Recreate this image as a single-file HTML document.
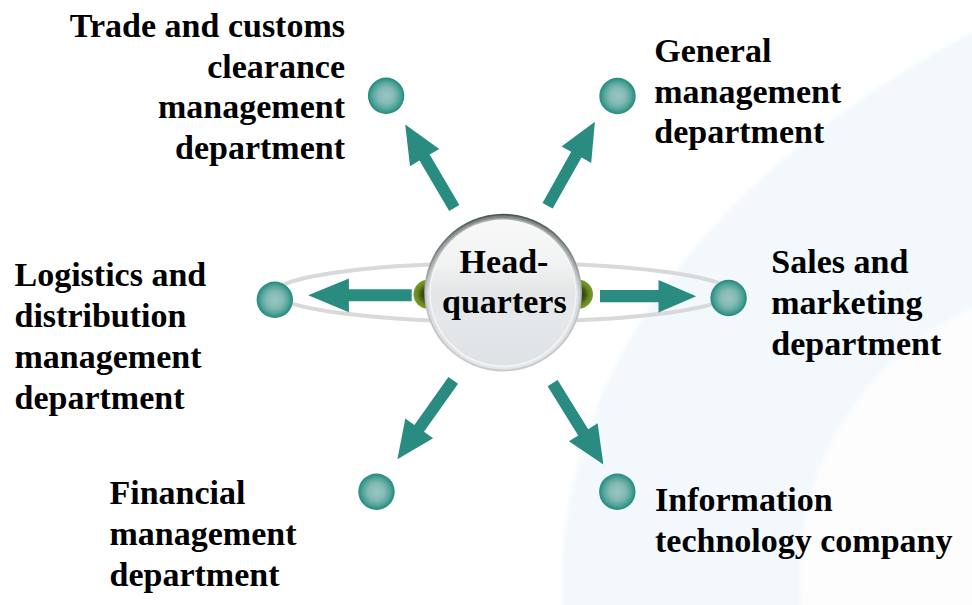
<!DOCTYPE html>
<html><head><meta charset="utf-8">
<style>
html,body{margin:0;padding:0;background:#fff;}
body{width:972px;height:605px;overflow:hidden;position:relative;}
svg{position:absolute;left:0;top:0;display:block;}
.t{font-family:"Liberation Serif",serif;font-weight:bold;font-size:34px;fill:#000;}
</style></head><body>
<svg width="972" height="605" viewBox="0 0 972 605">
<defs>
  <radialGradient id="ball" cx="50%" cy="50%" r="50%">
    <stop offset="0" stop-color="#98c6c2"/>
    <stop offset="0.45" stop-color="#84bab4"/>
    <stop offset="0.75" stop-color="#53a59b"/>
    <stop offset="0.92" stop-color="#319287"/>
    <stop offset="1" stop-color="#27897b"/>
  </radialGradient>
  <linearGradient id="rim1" x1="0" y1="0" x2="0" y2="1">
    <stop offset="0" stop-color="#4e5454"/>
    <stop offset="0.3" stop-color="#8a9090"/>
    <stop offset="0.5" stop-color="#bcc0c0"/>
    <stop offset="1" stop-color="#c8cccc"/>
  </linearGradient>
  <linearGradient id="rim2" x1="0" y1="0" x2="0" y2="1">
    <stop offset="0" stop-color="#7c8282"/>
    <stop offset="0.3" stop-color="#a8aeb0"/>
    <stop offset="0.5" stop-color="#d4d6de"/>
    <stop offset="1" stop-color="#e4e8e8"/>
  </linearGradient>
  <linearGradient id="rim3" x1="0" y1="0" x2="0" y2="1">
    <stop offset="0" stop-color="#a8acac"/>
    <stop offset="0.3" stop-color="#c8ccce"/>
    <stop offset="0.5" stop-color="#e4e6ee"/>
    <stop offset="1" stop-color="#eef0f0"/>
  </linearGradient>
  <linearGradient id="disc" x1="0" y1="0" x2="0" y2="1">
    <stop offset="0" stop-color="#f8f8f8"/>
    <stop offset="0.3" stop-color="#f1f2f2"/>
    <stop offset="0.5" stop-color="#e3e5e6"/>
    <stop offset="0.7" stop-color="#e5e8ea"/>
    <stop offset="1" stop-color="#dde2e5"/>
  </linearGradient>
  <radialGradient id="grn" cx="0.5" cy="0.5" r="0.5">
    <stop offset="0" stop-color="#1e2a0c"/>
    <stop offset="0.45" stop-color="#3e5214"/>
    <stop offset="0.75" stop-color="#6a8a20"/>
    <stop offset="1" stop-color="#7a9a2a"/>
  </radialGradient>
  <filter id="soft" x="-5%" y="-5%" width="110%" height="110%"><feGaussianBlur stdDeviation="2"/></filter>
  <g id="b"><circle r="18.2" fill="url(#ball)"/></g>
</defs>
<!-- background band -->
<clipPath id="outer"><ellipse cx="1714" cy="583" rx="1152" ry="719"/></clipPath>
<g filter="url(#soft)"><g clip-path="url(#outer)">
  <rect x="0" y="0" width="980" height="620" fill="#f2f8fc"/>
  <circle cx="1092.6" cy="575" r="293.4" fill="#fdfdfe"/>
</g></g>

<!-- ring -->
<ellipse cx="503" cy="292.5" rx="227.5" ry="29.4" fill="none" stroke="#d9d9d9" stroke-width="4"/>

<!-- balls -->
<use href="#b" x="386.1" y="95.8"/>
<use href="#b" x="617.5" y="96"/>
<use href="#b" x="274.8" y="299.8"/>
<use href="#b" x="728.6" y="298"/>
<use href="#b" x="376.5" y="491.7"/>
<use href="#b" x="617.3" y="491.7"/>

<!-- arrows -->
<g fill="#2a8c80">
<polygon points="600.0,302.3 658.5,302.3 658.5,312.5 696.2,296.2 658.5,279.9 658.5,290.1 600.0,290.1"/>
<polygon points="411.7,289.2 348.9,289.3 348.9,278.4 308.2,295.3 348.9,312.2 348.9,301.3 411.7,301.2"/>
<polygon points="459.4,205.0 429.7,154.6 439.3,149.0 405.2,124.6 410.0,166.2 419.5,160.6 449.2,211.0"/>
<polygon points="552.7,208.6 581.5,157.6 591.2,163.1 594.9,121.8 561.5,146.4 571.2,151.8 542.5,202.9"/>
<polygon points="448.4,376.9 414.4,425.0 405.3,418.6 397.4,459.3 433.1,438.2 424.0,431.8 458.1,383.7"/>
<polygon points="547.6,386.3 578.2,435.4 568.9,441.2 603.4,464.6 597.6,423.3 588.2,429.2 557.6,380.1"/>
</g>

<!-- green bits -->
<ellipse cx="428" cy="294.3" rx="14.5" ry="14.5" fill="url(#grn)"/>
<ellipse cx="578.5" cy="294.3" rx="14.5" ry="14.5" fill="url(#grn)"/>

<!-- sphere -->
<circle cx="503.1" cy="292.6" r="78.8" fill="url(#rim1)"/>
<circle cx="503.1" cy="292.6" r="77.0" fill="url(#rim2)"/>
<circle cx="503.1" cy="292.7" r="74.8" fill="url(#rim3)"/>
<circle cx="503.1" cy="292.9" r="73.4" fill="#fafafa"/>
<circle cx="503.1" cy="293.1" r="72.5" fill="url(#disc)"/>

<!-- text -->
<text class="t" x="504" y="272.9" text-anchor="middle">Head-</text>
<text class="t" x="504.3" y="313.4" text-anchor="middle">quarters</text>

<g class="t" text-anchor="end">
<text x="345" y="36.6">Trade and customs</text>
<text x="345" y="77.5">clearance</text>
<text x="345" y="118.4">management</text>
<text x="345" y="159.3">department</text>
</g>
<g class="t">
<text x="654.3" y="61.7">General</text>
<text x="654.3" y="102.5">management</text>
<text x="654.3" y="143.3">department</text>

<text x="14.5" y="286.1">Logistics and</text>
<text x="14.5" y="327.2">distribution</text>
<text x="14.5" y="368.3">management</text>
<text x="14.5" y="409.4">department</text>

<text x="771.3" y="273.1">Sales and</text>
<text x="771.3" y="314.2">marketing</text>
<text x="771.3" y="355.4">department</text>

<text x="109.5" y="503.8">Financial</text>
<text x="109.5" y="544.7">management</text>
<text x="109.5" y="585.5">department</text>

<text x="655" y="511">Information</text>
<text x="655" y="551.8">technology company</text>
</g>
</svg>
</body></html>
